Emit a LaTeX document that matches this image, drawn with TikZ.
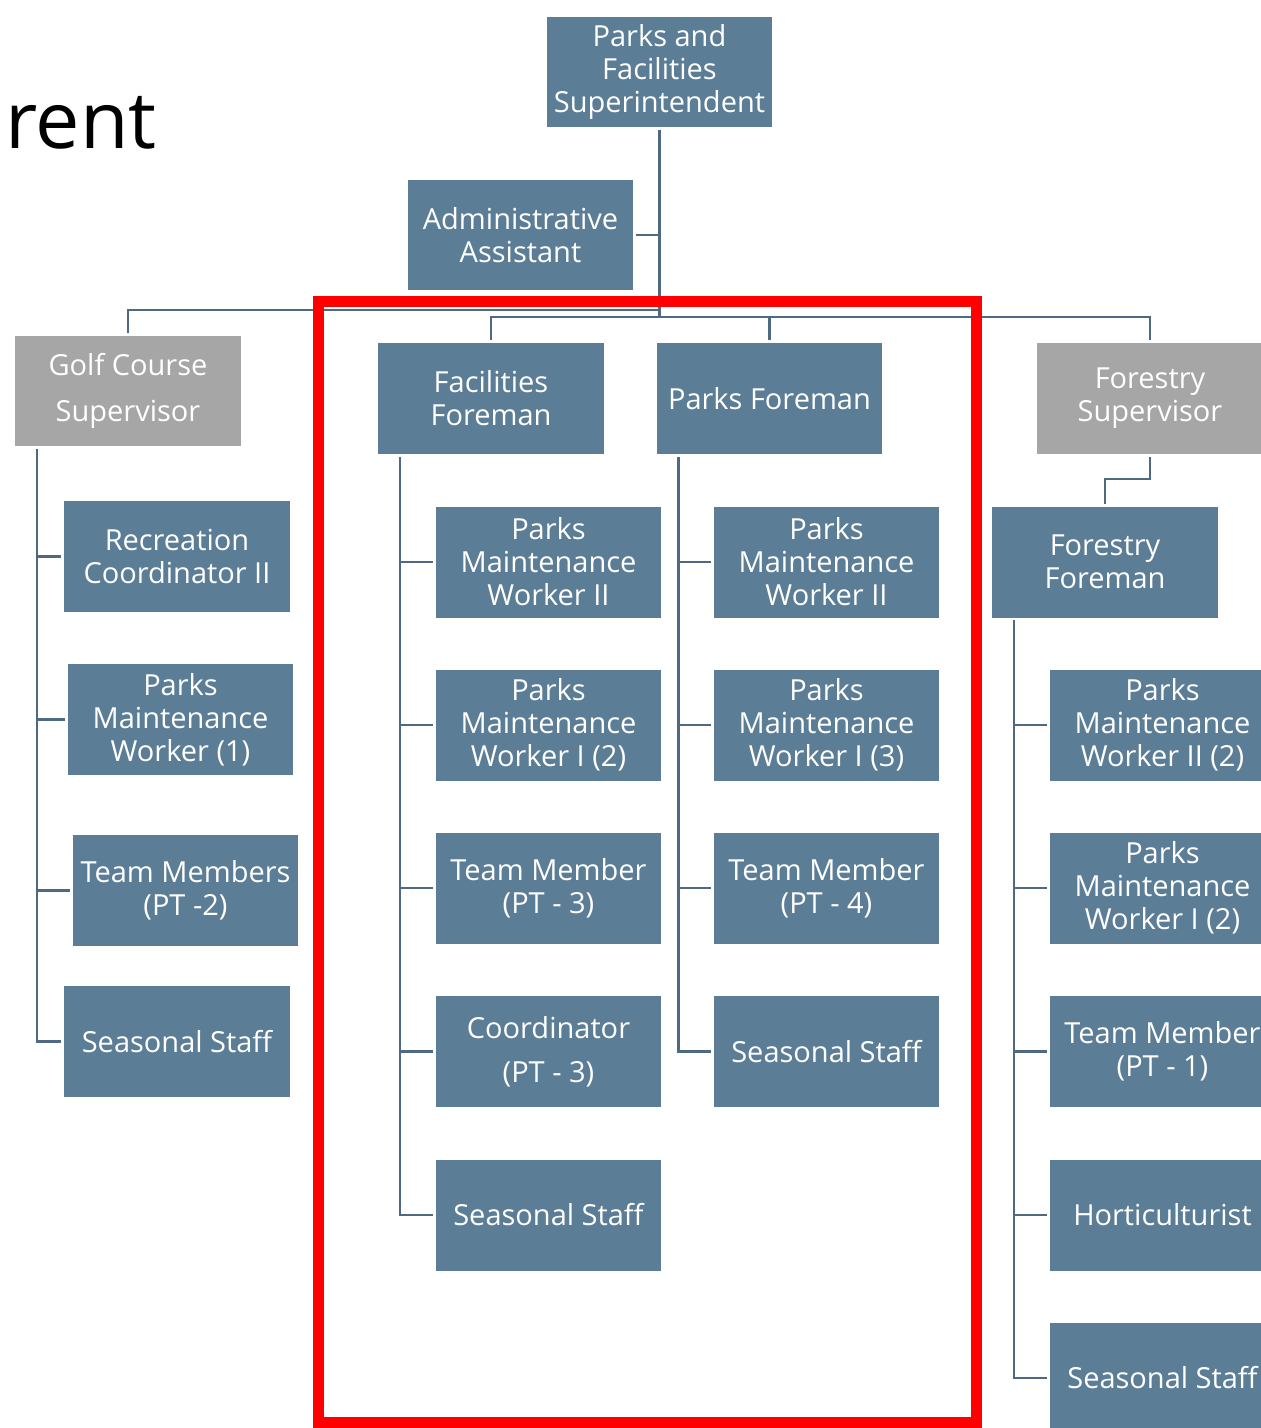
\documentclass[tikz,border=0pt]{standalone}
\usepackage{fontspec}
\setmainfont{Open Sans}
\usepackage{xcolor}
\usetikzlibrary{positioning}

\definecolor{postblue}{HTML}{5C7D96}
\definecolor{postgray}{HTML}{A6A6A7}
\definecolor{linkblue}{HTML}{4D6A82}

\begin{document}
\begin{tikzpicture}[x=0.02cm,y=-0.02cm,
      post/.style={fill=postblue,text=white,minimum width=4.52cm,minimum height=2.22cm,
                   inner sep=2pt,outer sep=0.06cm,align=center,
                   font=\fontsize{16.5}{18.8}\selectfont},
      vacant/.style={post,fill=postgray},
      link/.style={draw=linkblue,line width=1.4pt}]
    \useasboundingbox (0,0) rectangle (1261,1428);
    \clip (0,0) rectangle (1261,1428);
    % title fragment
    \node[anchor=base east,inner sep=0pt,font=\fontsize{45}{46}\selectfont] (title) at (157,148) {rent};
    % top of the chart
    \node[post] (supt) at (659.5,72) {Parks and\\Facilities\\Superintendent};
    \node[post] (admin) at (520.5,235) {Administrative\\Assistant};
    % supervisors and foremen
    \node[vacant] (golf) at (128,391) {Golf Course\\[7pt]Supervisor};
    \node[post] (facfm) at (491,398.5) {Facilities\\Foreman};
    \node[post] (parkfm) at (769.5,398.5) {Parks Foreman};
    \node[vacant] (forsup) at (1150,398.5) {Forestry\\Supervisor};
    \node[post] (forfm) at (1105,562) {Forestry\\Foreman};
    % golf course staff
    \node[post] (g1) at (177,556.5) {Recreation\\Coordinator II};
    \node[post] (g2) at (180.5,719.5) {Parks\\Maintenance\\Worker (1)};
    \node[post] (g3) at (185.5,890.5) {Team Members\\(PT -2)};
    \node[post] (g4) at (177,1041.5) {Seasonal Staff};
    % facilities staff
    \node[post] (f1) at (548.5,562) {Parks\\Maintenance\\Worker II};
    \node[post] (f2) at (548.5,725) {Parks\\Maintenance\\Worker I (2)};
    \node[post] (f3) at (548.5,888) {Team Member\\(PT - 3)};
    \node[post] (f4) at (548.5,1051.5) {Coordinator\\[6pt](PT - 3)};
    \node[post] (f5) at (548.5,1215) {Seasonal Staff};
    % parks staff
    \node[post] (p1) at (826.5,562) {Parks\\Maintenance\\Worker II};
    \node[post] (p2) at (826.5,725) {Parks\\Maintenance\\Worker I (3)};
    \node[post] (p3) at (826.5,888) {Team Member\\(PT - 4)};
    \node[post] (p4) at (826.5,1051.5) {Seasonal Staff};
    % forestry staff
    \node[post] (r1) at (1162.5,725) {Parks\\Maintenance\\Worker II (2)};
    \node[post] (r2) at (1162.5,888) {Parks\\Maintenance\\Worker I (2)};
    \node[post] (r3) at (1162.5,1051.5) {Team Member\\(PT - 1)};
    \node[post] (r4) at (1162.5,1215) {Horticulturist};
    \node[post] (r5) at (1162.5,1378) {Seasonal Staff};
    % links from the superintendent
    \coordinate (lbus) at (supt.south |- 0,310);
    \coordinate (rbus) at (supt.south |- 0,317);
    \draw[link] (supt.south) -- (rbus);
    \draw[link] (admin.east) -- (admin.east -| supt.south);
    \draw[link] (lbus) -| (golf.north);
    \foreach \n in {facfm,parkfm,forsup}
      \draw[link] (rbus) -| (\n.north);
    \draw[link] (forsup.south) -- ++(0,22) -| (forfm.north);
    % staff trunks
    \draw[link] (golf.south west) ++(25,0) coordinate (gtrunk) |- (g4.west);
    \draw[link] (facfm.south west) ++(25,0) coordinate (ftrunk) |- (f5.west);
    \draw[link] (parkfm.south west) ++(25,0) coordinate (ptrunk) |- (p4.west);
    \draw[link] (forfm.south west) ++(25,0) coordinate (rtrunk) |- (r5.west);
    \foreach \i in {1,2,3}
      \draw[link] (g\i.west) -- (g\i.west -| gtrunk);
    \foreach \i in {1,...,4}
      \draw[link] (f\i.west) -- (f\i.west -| ftrunk);
    \foreach \i in {1,2,3}
      \draw[link] (p\i.west) -- (p\i.west -| ptrunk);
    \foreach \i in {1,...,4}
      \draw[link] (r\i.west) -- (r\i.west -| rtrunk);
    % highlight
    \draw[red,line width=0.22cm] (318.5,301.5) rectangle (976.5,1422.5);
  \end{tikzpicture}
\end{document}
